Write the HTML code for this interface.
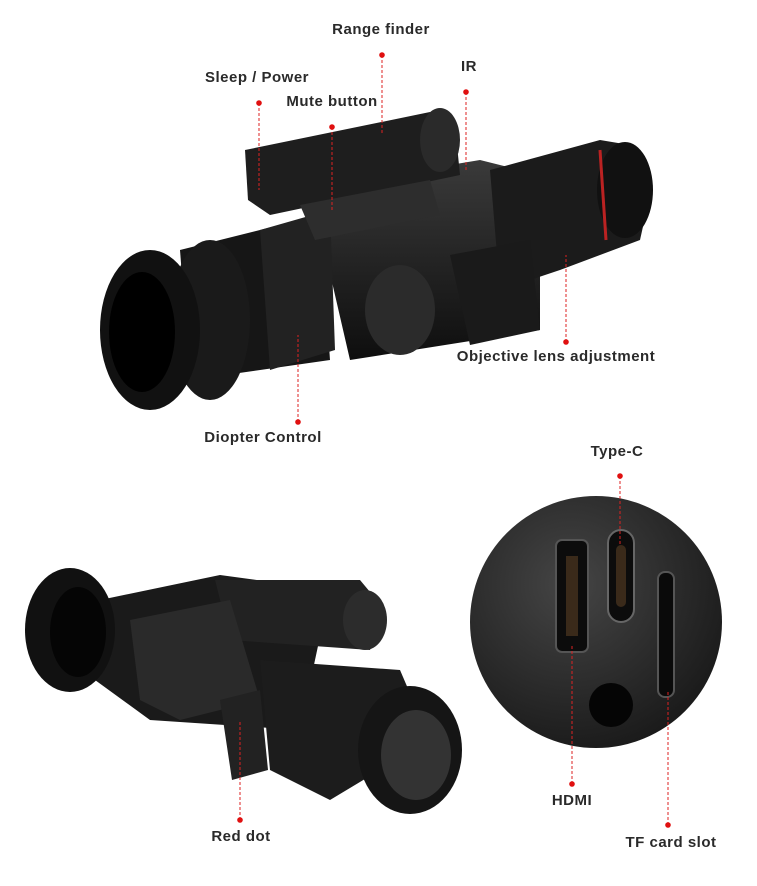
<!DOCTYPE html>
<html><head><meta charset="utf-8"><style>
html,body{margin:0;padding:0;background:#fff;}
body{width:757px;height:886px;position:relative;overflow:hidden;font-family:"Liberation Sans",sans-serif;}
.l{position:absolute;font-size:15px;font-weight:bold;color:#2a2a2a;letter-spacing:0.5px;white-space:nowrap;transform:translateX(-50%);}
svg{position:absolute;left:0;top:0;}
</style></head><body>
<svg width="757" height="886" viewBox="0 0 757 886">
<defs>
<radialGradient id="cg" cx="0.4" cy="0.35" r="0.75"><stop offset="0" stop-color="#454545"/><stop offset="1" stop-color="#161616"/></radialGradient>
<linearGradient id="bg" x1="0" y1="0" x2="0" y2="1"><stop offset="0" stop-color="#3a3a3a"/><stop offset="1" stop-color="#0e0e0e"/></linearGradient>
</defs>
<g>
<polygon points="180,250 320,215 330,360 190,380" fill="#161616"/>
<polygon points="300,190 480,160 540,175 540,330 350,360 320,230" fill="url(#bg)"/>
<polygon points="245,150 430,112 455,125 460,175 270,215 248,200" fill="#1e1e1e"/>
<ellipse cx="440" cy="140" rx="20" ry="32" fill="#2a2a2a"/>
<polygon points="490,170 600,140 630,145 650,195 640,240 560,270 500,290" fill="#1b1b1b"/>
<ellipse cx="625" cy="190" rx="28" ry="48" fill="#111"/>
<path d="M600 150 L606 240" stroke="#b22" stroke-width="3"/>
<polygon points="260,230 330,210 335,350 270,370" fill="#222"/>
<polygon points="450,255 530,240 540,330 470,345" fill="#1a1a1a"/>
<ellipse cx="210" cy="320" rx="40" ry="80" fill="#1a1a1a"/>
<ellipse cx="150" cy="330" rx="50" ry="80" fill="#111"/>
<ellipse cx="142" cy="332" rx="33" ry="60" fill="#000"/>
<ellipse cx="400" cy="310" rx="35" ry="45" fill="#2b2b2b"/>
<polygon points="300,205 430,180 440,215 315,240" fill="#2d2d2d"/>
</g>
<g>
<polygon points="100,600 220,575 330,590 300,730 150,720 95,680" fill="#1a1a1a"/>
<polygon points="215,580 360,580 385,610 370,650 230,640" fill="#222"/>
<ellipse cx="365" cy="620" rx="22" ry="30" fill="#2c2c2c"/>
<ellipse cx="70" cy="630" rx="45" ry="62" fill="#111"/>
<ellipse cx="78" cy="632" rx="28" ry="45" fill="#050505"/>
<polygon points="130,620 230,600 260,700 180,720 140,700" fill="#2a2a2a"/>
<polygon points="260,660 400,670 430,740 330,800 270,770" fill="#1c1c1c"/>
<ellipse cx="410" cy="750" rx="52" ry="64" fill="#151515"/>
<ellipse cx="416" cy="755" rx="35" ry="45" fill="#333"/>
<polygon points="220,700 260,690 268,770 232,780" fill="#222"/>
</g>
<circle cx="596" cy="622" r="126" fill="url(#cg)"/>
<rect x="556" y="540" width="32" height="112" rx="6" fill="#0c0c0c" stroke="#555" stroke-width="2"/>
<rect x="566" y="556" width="12" height="80" fill="#3a2a1a"/>
<rect x="608" y="530" width="26" height="92" rx="13" fill="#0c0c0c" stroke="#666" stroke-width="2"/>
<rect x="616" y="545" width="10" height="62" rx="5" fill="#3a2a1a"/>
<rect x="658" y="572" width="16" height="125" rx="7" fill="#0a0a0a" stroke="#555" stroke-width="2"/>
<circle cx="611" cy="705" r="22" fill="#050505"/>
<g stroke="#d22" stroke-width="1" stroke-dasharray="3,2" fill="none">
<line x1="382" y1="55" x2="382" y2="135"/>
<line x1="259" y1="103" x2="259" y2="190"/>
<line x1="332" y1="127" x2="332" y2="212"/>
<line x1="466" y1="92" x2="466" y2="172"/>
<line x1="566" y1="342" x2="566" y2="255"/>
<line x1="298" y1="422" x2="298" y2="335"/>
<line x1="620" y1="476" x2="620" y2="545"/>
<line x1="572" y1="784" x2="572" y2="645"/>
<line x1="668" y1="825" x2="668" y2="690"/>
<line x1="240" y1="820" x2="240" y2="720"/>
</g>
<g fill="#e01010">
<circle cx="382" cy="55" r="2.8"/><circle cx="259" cy="103" r="2.8"/><circle cx="332" cy="127" r="2.8"/>
<circle cx="466" cy="92" r="2.8"/><circle cx="566" cy="342" r="2.8"/><circle cx="298" cy="422" r="2.8"/>
<circle cx="620" cy="476" r="2.8"/><circle cx="572" cy="784" r="2.8"/><circle cx="668" cy="825" r="2.8"/>
<circle cx="240" cy="820" r="2.8"/>
</g>
</svg>
<div class="l" style="left:381px;top:21px">Range finder</div>
<div class="l" style="left:257px;top:69px">Sleep / Power</div>
<div class="l" style="left:332px;top:93px">Mute button</div>
<div class="l" style="left:469px;top:58px">IR</div>
<div class="l" style="left:556px;top:348px">Objective lens adjustment</div>
<div class="l" style="left:263px;top:429px">Diopter Control</div>
<div class="l" style="left:617px;top:443px">Type-C</div>
<div class="l" style="left:572px;top:792px">HDMI</div>
<div class="l" style="left:671px;top:834px">TF card slot</div>
<div class="l" style="left:241px;top:828px">Red dot</div>
</body></html>
